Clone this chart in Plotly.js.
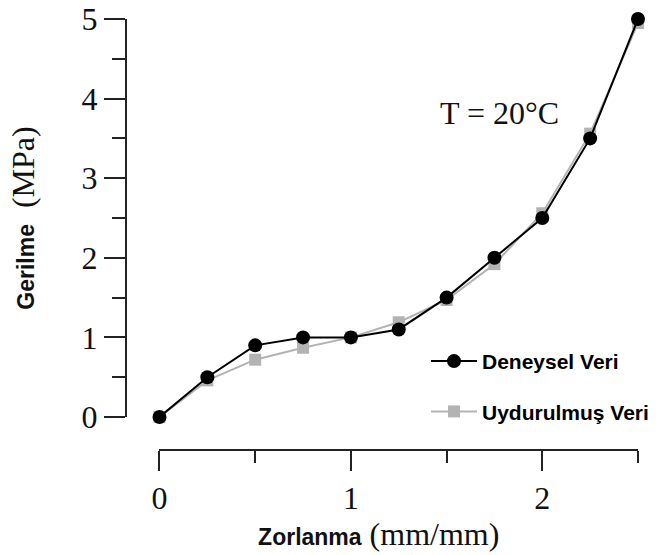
<!DOCTYPE html>
<html>
<head>
<meta charset="utf-8">
<script src="https://cdn.plot.ly/plotly-3.0.1.min.js"></script>
<style>
html,body{margin:0;padding:0;background:#fff;}
#chart{width:656px;height:555px;}
</style>
</head>
<body>
<div id="chart"></div>
<script>
// Data
const strain = [0, 0.25, 0.5, 0.75, 1.0, 1.25, 1.5, 1.75, 2.0, 2.25, 2.5];
const deneysel = [0, 0.5, 0.9, 1.0, 1.0, 1.1, 1.5, 2.0, 2.5, 3.5, 5.0];
const uydurulmus = [0, 0.46, 0.72, 0.87, 1.0, 1.19, 1.47, 1.92, 2.56, 3.56, 4.95];
const seriesNames = ["Deneysel Veri", "Uydurulmuş Veri"];
const xTickVals = [0, 1, 2];
const yTickVals = [0, 1, 2, 3, 4, 5];

const SERIF = "'Liberation Serif', 'Times New Roman', serif";
const SANS = "'Liberation Sans', Arial, sans-serif";

const traces = [
  {
    x: strain, y: uydurulmus, name: seriesNames[1], type: "scatter", mode: "lines+markers",
    line: {color: "#b3b3b3", width: 2},
    marker: {symbol: "square", size: 12, color: "#b3b3b3"},
    cliponaxis: false, legendgroup: "b", legendrank: 2
  },
  {
    x: strain, y: deneysel, name: seriesNames[0], type: "scatter", mode: "lines+markers",
    line: {color: "#000000", width: 2},
    marker: {symbol: "circle", size: 14, color: "#000000"},
    cliponaxis: false, legendgroup: "a", legendrank: 1
  }
];

const layout = {
  width: 656, height: 555,
  margin: {l: 126, r: 0, t: 19, b: 105, pad: 0},
  paper_bgcolor: "#ffffff", plot_bgcolor: "rgba(0,0,0,0)",
  showlegend: true,
  legend: {
    x: 0.566, y: 0.253, xanchor: "left", yanchor: "top",
    bgcolor: "rgba(0,0,0,0)", borderwidth: 0,
    font: {family: SANS, size: 21, color: "#000", weight: "bold"},
    tracegroupgap: 20, itemwidth: 46
  },
  xaxis: {
    range: [0, 2.5], domain: [0.0632, 0.966], anchor: "free", position: 0,
    showline: true, linecolor: "#222", linewidth: 2,
    ticks: "outside", ticklen: 20, tickwidth: 2, tickcolor: "#222",
    tickvals: xTickVals, ticktext: xTickVals.map(String),
    minor: {dtick: 0.5, ticks: "outside", ticklen: 12, tickwidth: 2, tickcolor: "#222"},
    showgrid: false, zeroline: false,
    tickfont: {family: SERIF, size: 32, color: "#111"},
    title: {
      text: "<span style='font-family:Liberation Sans, Arial, sans-serif;font-weight:bold;font-size:23px'>Zorlanma</span> (mm/mm)&nbsp;&nbsp;&nbsp;&nbsp;&nbsp;",
      font: {family: SERIF, size: 32, color: "#111"},
      standoff: 6
    }
  },
  yaxis: {
    range: [0, 5], domain: [0.0766, 1], anchor: "free", position: 0,
    showline: true, linecolor: "#222", linewidth: 2,
    ticks: "outside", ticklen: 21, tickwidth: 2, tickcolor: "#222",
    tickvals: yTickVals, ticktext: yTickVals.map(String),
    minor: {dtick: 0.5, ticks: "outside", ticklen: 13, tickwidth: 2, tickcolor: "#222"},
    showgrid: false, zeroline: false,
    tickfont: {family: SERIF, size: 32, color: "#111"},
    title: {
      text: "<span style='font-family:Liberation Sans, Arial, sans-serif;font-weight:bold;font-size:23px'>Gerilme</span>  (MPa)",
      font: {family: SERIF, size: 32, color: "#111"},
      standoff: 36
    }
  },
  annotations: [
    {
      x: 1.774, y: 3.82, xref: "x", yref: "y", text: "T = 20°C", showarrow: false,
      font: {family: SERIF, size: 32, color: "#111"}, xanchor: "center", yanchor: "middle"
    }
  ]
};

Plotly.newPlot("chart", traces, layout, {displayModeBar: false, staticPlot: true});
</script>
</body>
</html>
